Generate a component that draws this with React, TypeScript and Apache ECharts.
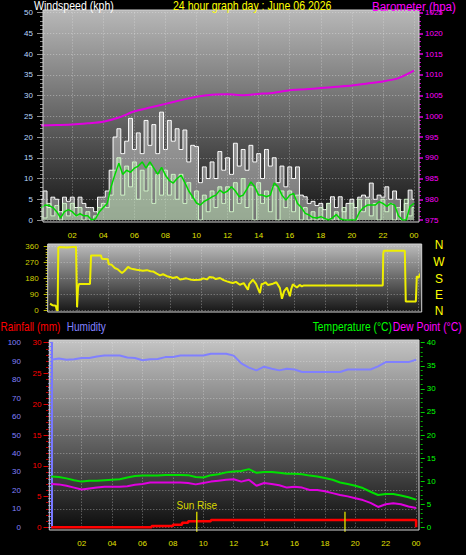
import React, { useEffect, useRef } from "react";
import * as echarts from "echarts";

const FONT = '"Liberation Sans", Arial, sans-serif';

// ---------- Wind (kph), every 15 minutes from 00:00 to 24:00 ----------
const windGust = [
  5, 7, 3, 5.5, 5, 2, 5.5, 4.5, 5.5, 3, 5.5, 4, 3, 3, 2, 5.5,
  5.5, 7, 12, 20, 22, 16, 19, 24.5, 17, 21, 16, 24, 18, 23, 16, 26,
  17, 24, 19, 22, 17, 21.7, 14, 18, 17.7, 9, 12.8, 10, 14, 10, 16.5, 12,
  15, 11, 18.5, 13, 17, 12, 18, 14, 16, 10, 17, 13, 15, 9, 13, 8,
  12.8, 10, 12.8, 6, 5.6, 4, 4.5, 3.5, 4, 2.5, 4, 5.6, 3, 5.6, 2, 4,
  5, 3, 5.5, 6, 5.5, 8.9, 5, 6, 5.5, 8, 5, 7, 5, 2, 4, 7.2,
  5,
];
const windSpeed = [
  3, 0.5, 4, 1, 3.5, 0, 4, 1, 4, 1, 3, 0, 2, 0, 1, 3,
  4, 3, 6, 12, 15, 6, 13, 8, 14, 5, 12, 7, 13, 4, 11, 6,
  12, 6, 11, 5, 11, 4, 9, 5, 7, 0, 6, 2, 7, 3, 8, 4,
  8, 2, 9, 4, 10, 3, 8, 0, 9, 4, 7, 2, 8, 0, 7, 3,
  7, 2, 6, 0, 3, 0, 2, 0, 3, 0, 4, 0, 2, 0, 3, 0,
  4, 0, 5, 2, 5, 1, 4, 0, 5, 2, 4, 0, 3, 0, 5, 1,
  3,
];
const windAverage = [
  3, 3.6, 3.5, 3, 2, 0.5, 2, 2.5, 2, 1, 1.5, 1, 1, 0, 0.3, 2,
  3, 4, 8, 11, 13.7, 11, 12, 11.5, 12.5, 13, 14, 12.5, 14, 12.5, 11, 12.7,
  10.8, 9.5, 8.9, 10, 10.8, 9, 7, 5.6, 4.1, 3.6, 4.5, 5, 5.6, 6, 7.2, 6.5,
  7, 8, 7, 5.6, 6, 7.5, 9.2, 8, 6, 6, 5.6, 6, 8.9, 8, 6, 4.8,
  6, 6.4, 4, 3, 1.6, 1.2, 0.6, 0.5, 0.8, 0.4, 0, 0.5, 1.3, 0.3, 0, 0,
  0, 0, 2, 3, 3.6, 3.6, 3.6, 4.4, 4, 3.3, 4, 3.6, 1, 0, 0, 3.3,
  4,
];

// ---------- Barometer (hPa), hourly ----------
const barometer = [
  997.8, 997.9, 998.0, 998.3, 998.7, 999.7, 1001.2, 1002.1, 1003.0, 1003.9,
  1004.7, 1005.2, 1005.3, 1005.1, 1005.4, 1005.7, 1006.3, 1006.5, 1006.8,
  1007.1, 1007.4, 1007.9, 1008.4, 1009.2, 1011.0,
];

// ---------- Wind direction (hour, degrees) ----------
const windDirection: [number, number][] = [
  [0.28, 40], [0.45, 30], [0.65, 28], [0.71, 5], [0.77, 0], [0.81, 355], [0.9, 358],
  [1.35, 356], [1.95, 360], [2.02, 20], [2.08, 130], [2.14, 150], [2.85, 150],
  [2.92, 311], [3.55, 311], [3.62, 292], [4.0, 290], [4.05, 262], [4.25, 258],
  [4.45, 240], [4.65, 232], [4.91, 212], [5.05, 222], [5.3, 246], [5.45, 238],
  [5.62, 234], [5.85, 230], [6.07, 228], [6.25, 225], [6.52, 228], [6.75, 222],
  [6.91, 221], [7.15, 208], [7.36, 199], [7.55, 205], [7.81, 194], [8.0, 190],
  [8.19, 184], [8.45, 190], [8.65, 176], [8.84, 178], [9.05, 182], [9.29, 176],
  [9.55, 172], [9.93, 174], [10.15, 182], [10.38, 176], [10.55, 190], [10.77, 187],
  [10.95, 178], [11.22, 184], [11.45, 172], [11.67, 165], [11.85, 160], [12.05, 156],
  [12.25, 162], [12.5, 146], [12.75, 155], [13.02, 118], [13.1, 150], [13.34, 174],
  [13.55, 150], [13.79, 99], [13.9, 150], [13.98, 150], [14.15, 160], [14.3, 145],
  [14.63, 152], [14.85, 160], [15.08, 127], [15.21, 67], [15.35, 110], [15.53, 130],
  [15.72, 81], [15.8, 120], [15.91, 148], [16.17, 130], [16.35, 145], [16.49, 137],
  [16.62, 142], [21.7, 142], [21.73, 321], [21.77, 337], [23.12, 337], [23.18, 52],
  [23.83, 52], [23.89, 193], [24.0, 185], [24.15, 212],
];

// ---------- Humidity (%), temperature & dew point (°C), every 30 minutes ----------
const humidity = [
  90.8, 91.5, 90.8, 91, 91.7, 91.7, 92.5, 93.1, 93.1, 93.1, 92, 91.7, 90.5, 91,
  91.2, 92.2, 92.2, 93.1, 93.1, 93.1, 93.1, 94, 94, 94, 93, 88.8, 86.5, 85,
  87, 85.9, 85, 85.9, 85.5, 84.1, 84.1, 84.1, 84.1, 84.1, 84.1, 85.5, 85.5,
  85.5, 85.5, 87.2, 89.5, 89.5, 89.5, 89.5, 90.8,
];
const temperature = [
  11.0, 10.9, 10.6, 10.2, 9.9, 10.1, 10.1, 10.2, 10.3, 10.4, 10.8, 11.1, 11.2,
  11.2, 11.2, 11.35, 11.35, 11.35, 11.3, 10.9, 10.8, 11.3, 11.5, 11.9, 12.1,
  12.2, 12.6, 11.8, 12.0, 12.0, 11.8, 11.6, 11.6, 11.5, 11.2, 11.0, 10.7, 10.3,
  9.7, 9.4, 9.0, 8.5, 7.7, 7.0, 7.2, 7.2, 6.9, 6.5, 6.0,
];
const dewPoint = [
  9.4, 9.3, 9.0, 8.6, 8.2, 8.4, 8.6, 8.8, 8.8, 8.8, 8.9, 9.2, 9.4, 9.7, 9.7,
  9.7, 9.7, 9.7, 9.6, 9.3, 9.6, 9.9, 10.1, 10.3, 10.4, 9.9, 10.3, 9.0, 9.6,
  9.4, 9.1, 8.6, 8.8, 8.6, 8.1, 8.1, 7.8, 7.4, 7.0, 6.7, 6.3, 5.9, 5.3, 4.4,
  5.0, 5.2, 5.0, 4.5, 4.2,
];

// ---------- Rainfall (mm, cumulative) ----------
const rainTimes = [0, 6.6, 8.0, 8.6, 9.0, 10.5, 23.95, 24];
const rainTotals = [0, 0.2, 0.4, 0.75, 1.0, 1.2, 1.2, 0];

// ---------- Sun rise / sun set (hour) and marker span (°C axis) ----------
const sunTimes = [9.57, 19.32];
const sunLabels = ["Sun Rise", ""];
const sunSpan = [-0.95, 3.38];

const compass = ["N", "W", "S", "E", "N"];

const quarter = (i: number) => i * 0.25;
const half = (i: number) => i * 0.5;

const gridLine = { type: [1, 2], color: "rgba(235,235,235,0.45)", width: 1 };

const hourLabel = (v: number) => String(v % 24).padStart(2, "0");

const grad = (top: string, bottom: string) =>
  new echarts.graphic.LinearGradient(0, 0, 0, 1, [
    { offset: 0, color: top },
    { offset: 1, color: bottom },
  ]);

function xAxis(gridIndex: number, showLabel: boolean, margin: number) {
  return {
    type: "value",
    gridIndex,
    min: 0,
    max: 24,
    interval: 2,
    axisLine: { show: false },
    axisTick: { show: false },
    axisLabel: {
      show: showLabel,
      color: "#e0e000",
      fontSize: 8,
      margin,
      showMinLabel: false,
      formatter: hourLabel,
    },
    splitLine: { show: true, showMinLine: false, lineStyle: gridLine },
  };
}

function headerText(text: string, x: number, y: number, color: string, scaleX: number) {
  return {
    type: "text",
    x,
    y,
    scaleX,
    z: 20,
    style: {
      text,
      fill: color,
      font: `12px ${FONT}`,
      textAlign: "left",
      textVerticalAlign: "middle",
    },
  };
}

function buildOption() {
  const graphic: any[] = [
    { type: "rect", z: -10, shape: { x: 43, y: 10, width: 376, height: 212 }, style: { fill: grad("#b8b8b8", "#131313") } },
    { type: "rect", z: -10, shape: { x: 47.7, y: 244, width: 374, height: 68 }, style: { fill: grad("#bcbcbc", "#161616") } },
    { type: "rect", z: -10, shape: { x: 49.3, y: 340, width: 369.7, height: 190 }, style: { fill: grad("#c4c4c4", "#0c0c0c") } },
    { type: "rect", z: 10, shape: { x: 43, y: 10, width: 376, height: 212 }, style: { fill: "none", stroke: "#d4d4d4", lineWidth: 1 } },
    { type: "rect", z: 10, shape: { x: 47.7, y: 244, width: 374, height: 68 }, style: { fill: "none", stroke: "#d4d4d4", lineWidth: 1 } },
    { type: "rect", z: 10, shape: { x: 49.3, y: 340, width: 369.7, height: 190 }, style: { fill: "none", stroke: "#d4d4d4", lineWidth: 1 } },
    headerText("Windspeed (kph)", 34, 6.2, "#ffffff", 0.88),
    headerText("24 hour graph day : June 06 2026", 173, 6.2, "#ffff00", 0.88),
    headerText("Barometer (hpa)", 372, 6.2, "#ff00ff", 0.96),
    headerText("Rainfall (mm)", 0.5, 326.5, "#ff0000", 0.84),
    headerText("Humidity", 66.7, 326.5, "#8080ff", 0.84),
    headerText("Temperature (°C)", 312.7, 326.5, "#00ff00", 0.86),
    headerText("Dew Point (°C)", 392.7, 326.5, "#ff00ff", 0.87),
  ];
  const compassY = [245, 261.5, 279, 295, 310.5];
  compass.forEach((c, i) => {
    graphic.push({
      type: "text",
      x: 439,
      y: compassY[i],
      z: 20,
      style: { text: c, fill: "#ffff00", font: `12px ${FONT}`, textAlign: "center", textVerticalAlign: "middle" },
    });
  });

  const sunSeries = sunTimes.map((t, i) => ({
    name: "Sun " + i,
    type: "line",
    xAxisIndex: 2,
    yAxisIndex: 5,
    clip: false,
    symbol: "circle",
    symbolSize: 0,
    showSymbol: true,
    lineStyle: { color: "#c8c800", width: 1.5 },
    itemStyle: { color: "#c8c800" },
    z: 7,
    data: [
      { value: [t, sunSpan[0]] },
      {
        value: [t, sunSpan[1]],
        label: {
          show: sunLabels[i] !== "",
          position: "top",
          distance: 1,
          formatter: sunLabels[i],
          color: "#d8d800",
          fontSize: 10,
        },
      },
    ],
  }));

  return {
    animation: false,
    backgroundColor: "#000000",
    textStyle: { fontFamily: FONT },
    graphic,
    grid: [
      { left: 41.2, top: 12.6, width: 372.8, height: 207.4, outerBoundsMode: "none" },
      { left: 45.7, top: 246.7, width: 372.8, height: 64, outerBoundsMode: "none" },
      { left: 51.3, top: 342.7, width: 364.8, height: 184.6, outerBoundsMode: "none" },
    ],
    xAxis: [xAxis(0, true, 11), xAxis(1, false, 8), xAxis(2, true, 12)],
    yAxis: [
      {
        type: "value", gridIndex: 0, position: "left", offset: -1.8, min: 0, max: 50, interval: 5,
        axisLine: { show: false },
        axisTick: { show: true, length: 6, lineStyle: { color: "#8c8c8c" } },
        minorTick: { show: true, splitNumber: 5, length: 3, lineStyle: { color: "#8c8c8c" } },
        axisLabel: { color: "#b8d8ff", fontSize: 8, margin: 10 },
        splitLine: { show: true, lineStyle: gridLine },
      },
      {
        type: "value", gridIndex: 0, position: "right", offset: 5, min: 975, max: 1025, interval: 5,
        axisLine: { show: false },
        axisTick: { show: true, length: 4, lineStyle: { color: "#e000e0", width: 1.5 } },
        minorTick: { show: true, splitNumber: 5, length: 2, lineStyle: { color: "#c000c0" } },
        axisLabel: { color: "#ff00ff", fontSize: 8, margin: 6, formatter: (v: number) => String(v) },
        splitLine: { show: false },
      },
      {
        type: "value", gridIndex: 1, position: "left", offset: -2, min: 0, max: 360, interval: 90,
        axisLine: { show: false },
        axisTick: { show: true, length: 4, lineStyle: { color: "#b8b800" } },
        minorTick: { show: true, splitNumber: 6, length: 2, lineStyle: { color: "#b8b800" } },
        axisLabel: { color: "#d0d000", fontSize: 8, margin: 9 },
        splitLine: { show: true, lineStyle: gridLine },
      },
      {
        type: "value", gridIndex: 2, position: "left", offset: 21.3, min: 0, max: 100, interval: 10,
        axisLine: { show: true, lineStyle: { color: "#7878ff", width: 2 } },
        axisTick: { show: true, length: 5, lineStyle: { color: "#7878ff" } },
        minorTick: { show: true, splitNumber: 5, length: 3, lineStyle: { color: "#7878ff" } },
        axisLabel: { color: "#8080ff", fontSize: 8, margin: 9 },
        splitLine: { show: true, lineStyle: gridLine },
      },
      {
        type: "value", gridIndex: 2, position: "left", offset: 2.8, min: 0, max: 30, interval: 5,
        axisLine: { show: false },
        axisTick: { show: true, length: 5, lineStyle: { color: "#e00000" } },
        minorTick: { show: true, splitNumber: 5, length: 2.5, lineStyle: { color: "#c00000" } },
        axisLabel: { color: "#ff0000", fontSize: 8, margin: 7 },
        splitLine: { show: false },
      },
      {
        type: "value", gridIndex: 2, position: "right", offset: 4.6, min: 0, max: 40, interval: 5,
        axisLine: { show: false },
        axisTick: { show: true, length: 4, lineStyle: { color: "#00d000" } },
        minorTick: { show: true, splitNumber: 5, length: 2, lineStyle: { color: "#00b000" } },
        axisLabel: { color: "#00ff00", fontSize: 8, margin: 6 },
        splitLine: { show: false },
      },
    ],
    series: [
      {
        name: "Gust", type: "line", xAxisIndex: 0, yAxisIndex: 0, step: "middle", symbol: "none",
        data: windGust.map((v, i) => [quarter(i), v]),
        lineStyle: { color: "#ffffff", width: 1 },
        areaStyle: { color: "rgba(240,240,240,0.62)" },
        z: 2,
      },
      {
        name: "Speed", type: "line", xAxisIndex: 0, yAxisIndex: 0, step: "middle", symbol: "none",
        data: windSpeed.map((v, i) => [quarter(i), v]),
        lineStyle: { color: "#d0f5c8", width: 1 },
        areaStyle: { color: "rgba(200,244,190,0.6)" },
        z: 3,
      },
      {
        name: "Average", type: "line", xAxisIndex: 0, yAxisIndex: 0, symbol: "none",
        data: windAverage.map((v, i) => [quarter(i), v]),
        lineStyle: { color: "#00d800", width: 1.5 },
        z: 4,
      },
      {
        name: "Barometer", type: "line", xAxisIndex: 0, yAxisIndex: 1, symbol: "none", smooth: 0.2,
        data: barometer.map((v, i) => [i, v]),
        lineStyle: { color: "#e000e0", width: 2 },
        z: 5,
      },
      {
        name: "Direction", type: "line", xAxisIndex: 1, yAxisIndex: 2, symbol: "none",
        data: windDirection,
        lineStyle: { color: "#eeee00", width: 2 },
        z: 5,
      },
      {
        name: "Humidity", type: "line", xAxisIndex: 2, yAxisIndex: 3, symbol: "none",
        data: humidity.map((v, i) => [half(i), v]),
        lineStyle: { color: "#8080ff", width: 2 },
        z: 5,
      },
      {
        name: "Rainfall", type: "line", xAxisIndex: 2, yAxisIndex: 4, symbol: "none", step: "end", clip: false,
        data: rainTimes.map((t, i) => [t, rainTotals[i]]),
        lineStyle: { color: "#ff0000", width: 2.5 },
        z: 6,
      },
      {
        name: "Temperature", type: "line", xAxisIndex: 2, yAxisIndex: 5, symbol: "none",
        data: temperature.map((v, i) => [half(i), v]),
        lineStyle: { color: "#00e000", width: 2 },
        z: 5,
      },
      {
        name: "Dew Point", type: "line", xAxisIndex: 2, yAxisIndex: 5, symbol: "none",
        data: dewPoint.map((v, i) => [half(i), v]),
        lineStyle: { color: "#e000e0", width: 2 },
        z: 5,
      },
      ...sunSeries,
    ],
  };
}

export default function App() {
  const ref = useRef<HTMLDivElement>(null);
  useEffect(() => {
    const chart = echarts.init(ref.current!, null, { renderer: "svg" });
    chart.setOption(buildOption() as any);
    return () => chart.dispose();
  }, []);
  return (
    <div
      ref={ref}
      style={{ position: "fixed", left: 0, top: 0, width: 466, height: 555, background: "#000" }}
    />
  );
}
